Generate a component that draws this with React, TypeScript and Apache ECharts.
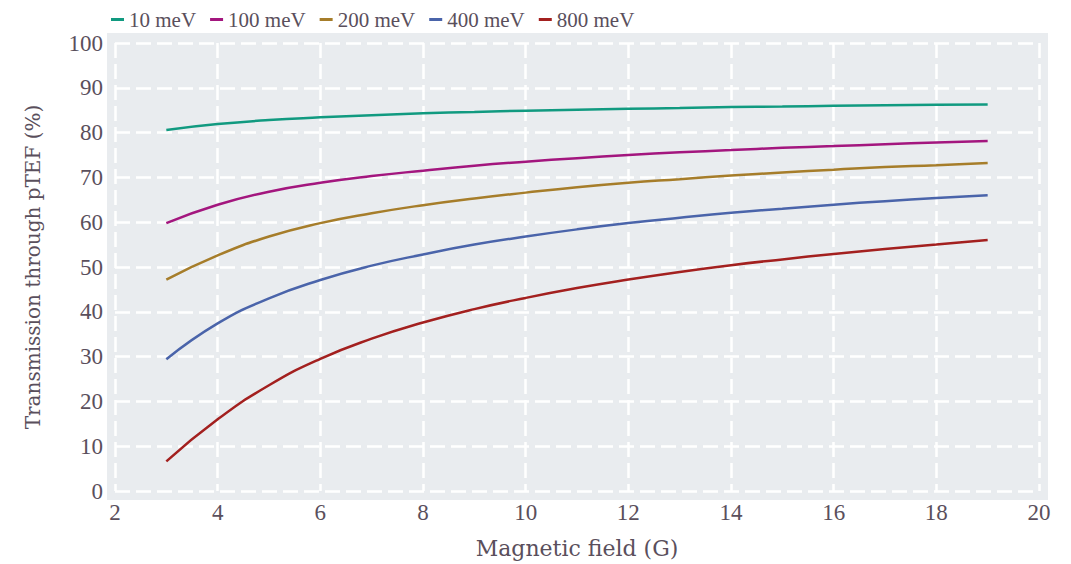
import React, { useEffect, useRef } from "react";
import * as echarts from "echarts";

const fieldG = [3, 4, 5, 6, 7, 8, 9, 10, 11, 12, 13, 14, 15, 16, 17, 18, 19];
const seriesNames = ["10 meV", "100 meV", "200 meV", "400 meV", "800 meV"];
const seriesColors = ["#119a80", "#a3167e", "#a67d2a", "#4a64aa", "#a3201f"];
const t10 = [80.6, 81.9, 82.8, 83.4, 83.9, 84.3, 84.6, 84.9, 85.1, 85.3, 85.5, 85.7, 85.8, 86.0, 86.1, 86.2, 86.3];
const t100 = [59.8, 63.9, 66.8, 68.8, 70.3, 71.5, 72.6, 73.5, 74.3, 75.0, 75.6, 76.1, 76.6, 77.0, 77.4, 77.8, 78.1];
const t200 = [47.2, 52.6, 56.8, 59.8, 62.0, 63.8, 65.3, 66.6, 67.8, 68.8, 69.6, 70.4, 71.1, 71.7, 72.3, 72.7, 73.2];
const t400 = [29.4, 37.4, 43.0, 47.1, 50.3, 52.8, 55.0, 56.8, 58.4, 59.8, 61.0, 62.1, 63.0, 63.9, 64.7, 65.4, 66.0];
const t800 = [6.6, 16.0, 23.6, 29.5, 34.0, 37.6, 40.6, 43.1, 45.3, 47.2, 48.9, 50.4, 51.7, 52.9, 54.0, 55.0, 56.0];
const allSeries = [t10, t100, t200, t400, t800];

const textColor = "#5a4f5c";
const gridStyle = { color: "#ffffff", width: 2.5, type: [15, 6] as number[] };

export default function App() {
  const ref = useRef<HTMLDivElement>(null);
  useEffect(() => {
    if (!ref.current) return;
    const chart = echarts.init(ref.current, null, { renderer: "svg" });
    chart.setOption({
      animation: false,
      backgroundColor: "#ffffff",
      graphic: [
        {
          type: "rect",
          z: -10,
          silent: true,
          shape: { x: 107, y: 33, width: 941, height: 467 },
          style: { fill: "#e9ecef" },
        },
      ],
      legend: {
        left: 106,
        top: 4,
        icon: "rect",
        itemWidth: 13,
        itemHeight: 3,
        itemGap: 14,
        textStyle: { fontFamily: "Liberation Serif", fontSize: 21, color: textColor },
        data: seriesNames,
      },
      grid: { left: 115, right: 32, top: 43, bottom: 73, containLabel: false },
      xAxis: {
        type: "value",
        min: 2,
        max: 20,
        interval: 2,
        name: "Magnetic field (G)",
        nameLocation: "middle",
        nameGap: 46,
        nameTextStyle: { fontFamily: "DejaVu Serif", fontSize: 22, color: textColor },
        axisLine: { show: false },
        axisTick: { show: false },
        axisLabel: { fontFamily: "Liberation Serif", fontSize: 23, color: textColor, margin: 10 },
        splitLine: { show: true, lineStyle: gridStyle },
      },
      yAxis: {
        type: "value",
        min: 0,
        max: 100,
        interval: 10,
        name: "Transmission through pTEF (%)",
        nameLocation: "middle",
        nameGap: 72,
        nameTextStyle: { fontFamily: "DejaVu Serif", fontSize: 20, color: textColor },
        axisLine: { show: false },
        axisTick: { show: false },
        axisLabel: { fontFamily: "Liberation Serif", fontSize: 23, color: textColor, margin: 12 },
        splitLine: { show: true, lineStyle: gridStyle },
      },
      series: allSeries.map((vals, i) => ({
        name: seriesNames[i],
        type: "line",
        smooth: 0.5,
        showSymbol: false,
        symbol: "none",
        color: seriesColors[i],
        lineStyle: { width: 2.5, color: seriesColors[i] },
        data: fieldG.map((x, j) => [x, vals[j]]),
      })),
    });
    return () => chart.dispose();
  }, []);
  return (
    <div
      ref={ref}
      style={{ position: "absolute", left: 0, top: 0, width: 1071, height: 564 }}
    />
  );
}
